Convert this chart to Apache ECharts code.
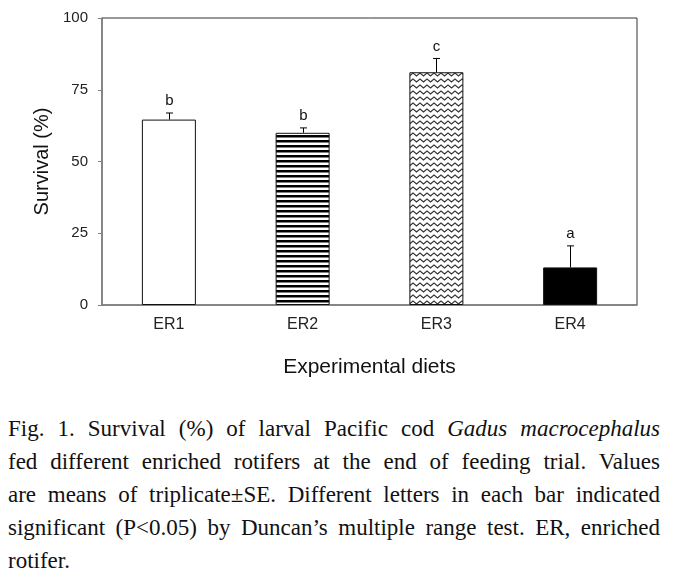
<!DOCTYPE html>
<html>
<head>
<meta charset="utf-8">
<script src="https://cdn.jsdelivr.net/npm/echarts@6/dist/echarts.min.js"></script>
<style>
  html, body { margin: 0; padding: 0; background: #fff; }
  #wrap { position: relative; width: 676px; height: 579px; overflow: hidden; background: #fff; }
  #chart { position: absolute; left: 0; top: 0; width: 676px; height: 395px; }
  #cap { position: absolute; left: 8px; top: 412px; width: 652px; font-family: "Liberation Serif", "Times New Roman", serif;
         font-size: 23px; line-height: 33px; color: #111; }
  #cap .ln { text-align: justify; text-align-last: justify; white-space: nowrap; }
  #cap .ln.last { text-align: left; text-align-last: left; }
</style>
</head>
<body>
<div id="wrap">
  <div id="chart"></div>
  <div id="cap">
    <div class="ln">Fig. 1. Survival (%) of larval Pacific cod <i>Gadus macrocephalus</i></div>
    <div class="ln">fed different enriched rotifers at the end of feeding trial. Values</div>
    <div class="ln">are means of triplicate±SE. Different letters in each bar indicated</div>
    <div class="ln">significant (P&lt;0.05) by Duncan’s multiple range test. ER, enriched</div>
    <div class="ln last">rotifer.</div>
  </div>
</div>
<script>
// ---- data ----
const categories = ['ER1', 'ER2', 'ER3', 'ER4'];
const survival = [64.6, 60.0, 81.1, 13.1];
const se = [2.3, 1.7, 4.8, 7.5];
const letters = ['b', 'b', 'c', 'a'];
const yTicks = [0, 25, 50, 75, 100];

// ---- patterns ----
function stripePattern() {
  const c = document.createElement('canvas');
  c.width = 5; c.height = 5;
  const g = c.getContext('2d');
  g.fillStyle = '#fff'; g.fillRect(0, 0, 5, 5);
  g.fillStyle = '#000'; g.fillRect(0, 0, 5, 2.5);
  return c;
}
function zigzagPattern() {
  const c = document.createElement('canvas');
  c.width = 7; c.height = 6;
  const g = c.getContext('2d');
  g.fillStyle = '#fff'; g.fillRect(0, 0, 7, 6);
  g.strokeStyle = '#333'; g.lineWidth = 1.2;
  g.beginPath();
  g.moveTo(-3.5, 4); g.lineTo(0, 1); g.lineTo(3.5, 4); g.lineTo(7, 1); g.lineTo(10.5, 4);
  g.stroke();
  return c;
}

const fills = [
  '#ffffff',
  { image: stripePattern(), repeat: 'repeat' },
  { image: zigzagPattern(), repeat: 'repeat' },
  '#000000'
];

const barData = survival.map((v, i) => ({
  value: v,
  itemStyle: { color: fills[i], borderColor: '#111', borderWidth: 1 }
}));
const errData = survival.map((v, i) => [i, v, se[i]]);

const chart = echarts.init(document.getElementById('chart'), null, { renderer: 'canvas' });
chart.setOption({
  animation: false,
  backgroundColor: '#fff',
  textStyle: { fontFamily: '"Liberation Sans", Arial, sans-serif' },
  grid: {
    left: 102, right: 39, top: 18, bottom: 90,
    show: true, borderColor: '#333', borderWidth: 1, backgroundColor: 'transparent',
    outerBoundsMode: 'none'
  },
  xAxis: {
    type: 'category',
    data: categories,
    axisLine: { lineStyle: { color: '#808080', width: 1.5 } },
    axisTick: { show: false },
    axisLabel: { fontSize: 16, color: '#222', margin: 12 },
    name: 'Experimental diets',
    nameLocation: 'middle',
    nameGap: 52,
    nameTextStyle: { fontSize: 21, color: '#111' }
  },
  yAxis: {
    type: 'value',
    min: yTicks[0], max: yTicks[yTicks.length - 1], interval: 25,
    axisLine: { show: true, lineStyle: { color: '#808080', width: 1.5 } },
    axisTick: { show: true, length: 4, lineStyle: { color: '#808080' } },
    axisLabel: { fontSize: 15, color: '#222', margin: 14 },
    splitLine: { show: false },
    name: 'Survival (%)',
    nameLocation: 'middle',
    nameRotate: 90,
    nameGap: 44,
    nameTextStyle: { fontSize: 20, color: '#111' }
  },
  series: [
    {
      type: 'bar',
      data: barData,
      barWidth: 54,
      z: 2
    },
    {
      type: 'custom',
      data: errData,
      z: 5,
      renderItem: function (params, api) {
        const i = api.value(0);
        const v = api.value(1);
        const e = api.value(2);
        const p0 = api.coord([i, v]);
        const p1 = api.coord([i, v + e]);
        const x = Math.round(p0[0]) + 0.5;
        return {
          type: 'group',
          children: [
            { type: 'line', shape: { x1: x, y1: p0[1], x2: x, y2: p1[1] }, style: { stroke: '#000', lineWidth: 1 } },
            { type: 'line', shape: { x1: x - 3.5, y1: p1[1], x2: x + 3.5, y2: p1[1] }, style: { stroke: '#000', lineWidth: 1 } },
            { type: 'text', style: { text: letters[params.dataIndex], x: x, y: p1[1] - 12, align: 'center', verticalAlign: 'middle',
                fontSize: 15, fill: '#111', fontFamily: '"Liberation Sans", Arial, sans-serif' } }
          ]
        };
      }
    }
  ]
});
</script>
</body>
</html>
